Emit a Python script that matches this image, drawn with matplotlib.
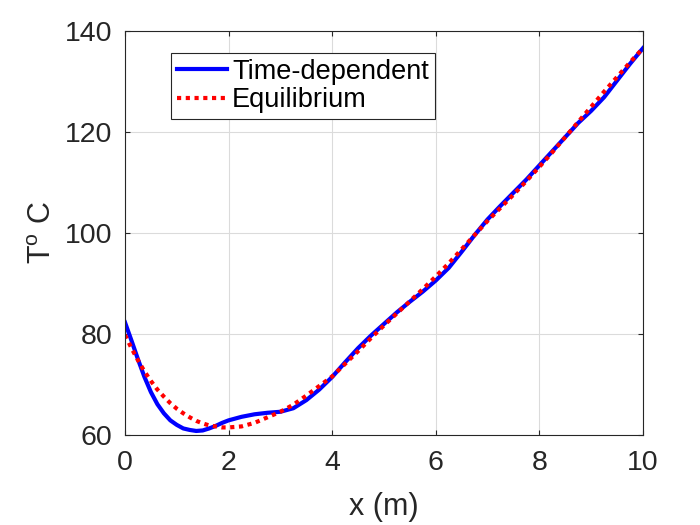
import numpy as np
import matplotlib
matplotlib.use("Agg")
import matplotlib.pyplot as plt

plt.rcParams['font.family'] = ['Liberation Sans', 'DejaVu Sans']
plt.rcParams['mathtext.fontset'] = 'custom'
plt.rcParams['mathtext.rm'] = 'Liberation Sans'
plt.rcParams['mathtext.it'] = 'Liberation Sans'

# posisjoner langs x (m): tettere der kurvene bøyer mest
x = np.concatenate([np.arange(0, 2, 0.125), np.arange(2, 10.01, 0.25)])

# tidsavhengig løsning (blå)
t_time = [82.3, 78.7, 75.0, 71.5, 68.5, 66.1, 64.3, 62.9, 62.0, 61.3,
          61.0, 60.8, 60.9, 61.3, 61.8, 62.4,
          62.9, 63.6, 64.1, 64.4, 64.6, 65.3, 66.9, 69.0,
          71.5, 74.4, 77.2, 79.7, 82.0, 84.3, 86.4, 88.4,
          90.6, 93.1, 96.3, 99.6, 102.7, 105.4, 108.0, 110.6,
          113.4, 116.2, 119.0, 121.8, 124.2, 126.9, 130.2, 133.5,
          136.6]

# likevektsløsning (rød, prikket)
t_eq = [79.8, 77.2, 74.8, 72.6, 70.7, 69.0, 67.6, 66.3, 65.2, 64.3,
        63.5, 62.8, 62.3, 61.9, 61.7, 61.5,
        61.5, 61.7, 62.4, 63.5, 64.6, 66.0, 67.8, 69.7,
        71.6, 74.1, 76.6, 79.2, 81.7, 84.1, 86.5, 88.9,
        91.4, 94.0, 96.8, 99.6, 102.4, 105.0, 107.6, 110.3,
        113.1, 116.0, 119.0, 122.0, 125.0, 128.0, 130.9, 133.8,
        136.6]

xticks = [0, 2, 4, 6, 8, 10]
yticks = [60, 80, 100, 120, 140]

fig = plt.figure(figsize=(7, 5.25), dpi=100)
ax = fig.add_axes([125/700, 90/525, 518/700, 404/525])

ax.plot(x, t_time, color=(0, 0, 1), lw=3, label="Time-dependent")
ax.plot(x, t_eq, color=(1, 0, 0), lw=3, linestyle=(0, (1, 1.1)), label="Equilibrium")

ax.set_xlim(0, 10)
ax.set_ylim(60, 140)
ax.set_xticks(xticks)
ax.set_yticks(yticks)
ax.grid(True, color=(0.86, 0.86, 0.86), lw=0.8)
ax.set_axisbelow(True)

dark = (0.15, 0.15, 0.15)
for s in ax.spines.values():
    s.set_color(dark)
    s.set_linewidth(0.8)
ax.tick_params(direction='in', length=3.7, width=0.8, colors=dark,
               labelsize=20.5, top=True, right=True)
ax.tick_params(axis='x', pad=10.5)
ax.tick_params(axis='y', pad=9)

ax.set_xlabel("x (m)", fontsize=22, color=dark)
ax.set_ylabel(r"T$^{\rm o}$ C", fontsize=22, color=dark)
ax.xaxis.set_label_coords(0.5, -0.142)
ax.yaxis.set_label_coords(-0.13, 0.5)

leg = ax.legend(loc='upper left', bbox_to_anchor=(0.088, 0.9455), borderaxespad=0,
                fontsize=19.5, fancybox=False, framealpha=1, edgecolor=dark,
                handlelength=1.85, handletextpad=0.2, labelspacing=0.08,
                borderpad=0.22)
leg.get_frame().set_linewidth(0.8)

fig.savefig("out.png", dpi=100)
